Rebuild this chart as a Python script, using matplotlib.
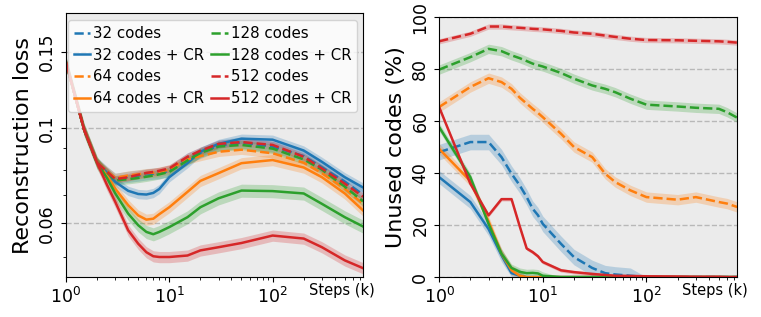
import matplotlib.pyplot as plt
from matplotlib.ticker import FixedLocator, FixedFormatter, NullFormatter
import numpy as np

steps_loss = [1, 1.5, 2, 2.5, 3, 4, 5, 6, 7, 8, 10, 15, 20, 30, 50, 100, 200, 300, 500, 750]
steps_unused = [1, 2, 3, 4, 5, 6, 7, 8, 9, 10, 15, 20, 30, 40, 50, 70, 100, 200, 300, 500, 600, 750]

labels = ['32 codes', '32 codes + CR', '64 codes', '64 codes + CR',
          '128 codes', '128 codes + CR', '512 codes', '512 codes + CR']
colors = ['#1f77b4', '#1f77b4', '#ff7f0e', '#ff7f0e',
          '#2ca02c', '#2ca02c', '#d62728', '#d62728']
styles = ['--', '-', '--', '-', '--', '-', '--', '-']

# reconstruction loss
loss_32 = [0.142, 0.099, 0.083, 0.0790, 0.0762, 0.0770, 0.0775, 0.0780, 0.0783, 0.0785, 0.0795, 0.0850, 0.0875, 0.0910, 0.0925, 0.0905, 0.0860, 0.0810, 0.0750, 0.0700]
loss_32_cr = [0.142, 0.099, 0.083, 0.0786, 0.0749, 0.0714, 0.0702, 0.0700, 0.0706, 0.0721, 0.0768, 0.0828, 0.0880, 0.0918, 0.0944, 0.0939, 0.0886, 0.0834, 0.0768, 0.0727]
loss_64 = [0.142, 0.099, 0.083, 0.0792, 0.0765, 0.0775, 0.0780, 0.0785, 0.0787, 0.0790, 0.0800, 0.0845, 0.0860, 0.0880, 0.0890, 0.0873, 0.0830, 0.0785, 0.0722, 0.0666]
loss_64_cr = [0.142, 0.099, 0.083, 0.0775, 0.0722, 0.0661, 0.0626, 0.0612, 0.0615, 0.0630, 0.0654, 0.0710, 0.0753, 0.0785, 0.0828, 0.0842, 0.0809, 0.0768, 0.0704, 0.0643]
loss_128 = [0.142, 0.099, 0.083, 0.0788, 0.0755, 0.0760, 0.0765, 0.0770, 0.0775, 0.0780, 0.0790, 0.0840, 0.0875, 0.0905, 0.0913, 0.0895, 0.0845, 0.0800, 0.0730, 0.0675]
loss_128_cr = [0.142, 0.099, 0.083, 0.0764, 0.0704, 0.0632, 0.0594, 0.0573, 0.0566, 0.0573, 0.0588, 0.0620, 0.0654, 0.0686, 0.0715, 0.0713, 0.0704, 0.0666, 0.0620, 0.0590]
loss_512 = [0.142, 0.099, 0.083, 0.0791, 0.0760, 0.0768, 0.0778, 0.0786, 0.0790, 0.0795, 0.0805, 0.0857, 0.0885, 0.0918, 0.0927, 0.0913, 0.0857, 0.0805, 0.0742, 0.0692]
loss_512_cr = [0.142, 0.099, 0.083, 0.0736, 0.0673, 0.0578, 0.0538, 0.0514, 0.0503, 0.0501, 0.0501, 0.0505, 0.0519, 0.0528, 0.0540, 0.0562, 0.0553, 0.0528, 0.0492, 0.0472]
loss_spread = [0.03, 0.025, 0.025, 0.03, 0.025, 0.035, 0.02, 0.03]  # relative

# unused codes (%)
unused_32 = [48.1, 52, 52, 46.2, 39.8, 35.3, 30.8, 26.3, 23.8, 20.5, 12.8, 7.7, 3.5, 1.5, 1.0, 0.5, 0, 0, 0, 0, 0, 0]
unused_32_cr = [38.5, 28.9, 18.5, 8.4, 1.5, 0.5, 0, 0, 0, 0, 0, 0, 0, 0, 0, 0, 0, 0, 0, 0, 0, 0]
unused_64 = [65.5, 73.2, 76.6, 75.1, 72.5, 69.1, 66.8, 64.8, 63.2, 61.6, 55.2, 50.1, 46.2, 39.8, 36.6, 33.4, 30.8, 29.8, 30.8, 28.9, 28.3, 27.0]
unused_64_cr = [49.4, 37, 21.5, 9, 2.6, 0.5, 0, 0, 0, 0, 0, 0, 0, 0, 0, 0, 0, 0, 0, 0, 0, 0]
unused_128 = [79.9, 84.7, 87.9, 87.0, 85.4, 84.3, 83.2, 82.2, 81.6, 81.1, 78.6, 76.4, 73.8, 72.5, 71.2, 68.7, 66.4, 65.7, 65.2, 64.8, 63.5, 61.4]
unused_128_cr = [57.8, 38.5, 20.5, 9, 3.5, 2, 1.5, 1.6, 1.4, 0.5, 0, 0, 0, 0, 0, 0, 0, 0, 0, 0, 0, 0]
unused_512 = [90.8, 93.7, 96.5, 96.5, 96.2, 96.0, 95.8, 95.6, 95.5, 95.4, 94.8, 94.2, 93.7, 93.0, 92.5, 91.8, 91.3, 91.2, 91.0, 90.8, 90.6, 90.3]
unused_512_cr = [65.5, 36, 23.8, 30, 30, 19.5, 11, 9.6, 8, 5.8, 2.6, 1.9, 1.2, 0.8, 0.5, 0.4, 0.3, 0.2, 0.1, 0.1, 0, 0]
unused_spread = [3, 2.5, 2, 2, 1.8, 1.5, 1, 0.7]  # absolute

loss_series = [loss_32, loss_32_cr, loss_64, loss_64_cr, loss_128, loss_128_cr, loss_512, loss_512_cr]
unused_series = [unused_32, unused_32_cr, unused_64, unused_64_cr, unused_128, unused_128_cr, unused_512, unused_512_cr]

fig = plt.figure(figsize=(7.61, 3.17), dpi=100)
ax1 = fig.add_axes([0.0867, 0.126, 0.3903, 0.833])
ax2 = fig.add_axes([0.577, 0.126, 0.3916, 0.819])

for ax in (ax1, ax2):
    ax.set_facecolor('#ebebeb')
    ax.set_xscale('log')
    ax.set_xlim(1, 750)
    ax.tick_params(labelsize=12.5)
    ax.tick_params(axis='y', labelrotation=90)
    ax.set_axisbelow(True)

# left: reconstruction loss
for vals, sp, c, ls, lab in zip(loss_series, loss_spread, colors, styles, labels):
    v = np.array(vals)
    ax1.fill_between(steps_loss, v * (1 - sp), v * (1 + sp), color=c, alpha=0.25, lw=0)
    ax1.plot(steps_loss, v, color=c, ls=ls, lw=1.8, label=lab)

ax1.set_yscale('log')
ax1.set_ylim(0.045, 0.185)
ax1.yaxis.set_major_locator(FixedLocator([0.06, 0.1, 0.15]))
ax1.yaxis.set_major_formatter(FixedFormatter(['0.06', '0.1', '0.15']))
ax1.yaxis.set_minor_locator(FixedLocator([0.05, 0.07, 0.08, 0.09]))
ax1.yaxis.set_minor_formatter(NullFormatter())
ax1.grid(axis='y', which='major', ls='--', color='#b8b8b8', lw=1)
ax1.set_ylabel('Reconstruction loss', fontsize=16)
for lab in ax1.get_yticklabels():
    lab.set_va('center')
ax1.text(1.04, -0.05, 'Steps (k)', transform=ax1.transAxes, ha='right', va='center', fontsize=10.5)
ax1.legend(loc='upper left', bbox_to_anchor=(0.006, 0.974), borderaxespad=0,
           ncol=2, fontsize=10.8, handlelength=1.1, handletextpad=0.2,
           columnspacing=0.45, labelspacing=0.45, borderpad=0.4)

# right: unused codes
for vals, sp, c, ls in zip(unused_series, unused_spread, colors, styles):
    v = np.array(vals)
    lower = np.clip(v - sp, 0, None)
    upper = v + np.where(v > 0, sp, 0)
    ax2.fill_between(steps_unused, lower, upper, color=c, alpha=0.25, lw=0)
    ax2.plot(steps_unused, v, color=c, ls=ls, lw=1.8)

ax2.set_ylim(0, 100)
ax2.set_yticks([0, 20, 40, 60, 80, 100])
ax2.grid(axis='y', which='major', ls='--', color='#b8b8b8', lw=1)
ax2.set_ylabel('Unused codes (%)', fontsize=16)
for lab in ax2.get_yticklabels():
    lab.set_va('center')
ax2.text(1.037, -0.05, 'Steps (k)', transform=ax2.transAxes, ha='right', va='center', fontsize=10.5)

plt.savefig('out.png', dpi=100)
